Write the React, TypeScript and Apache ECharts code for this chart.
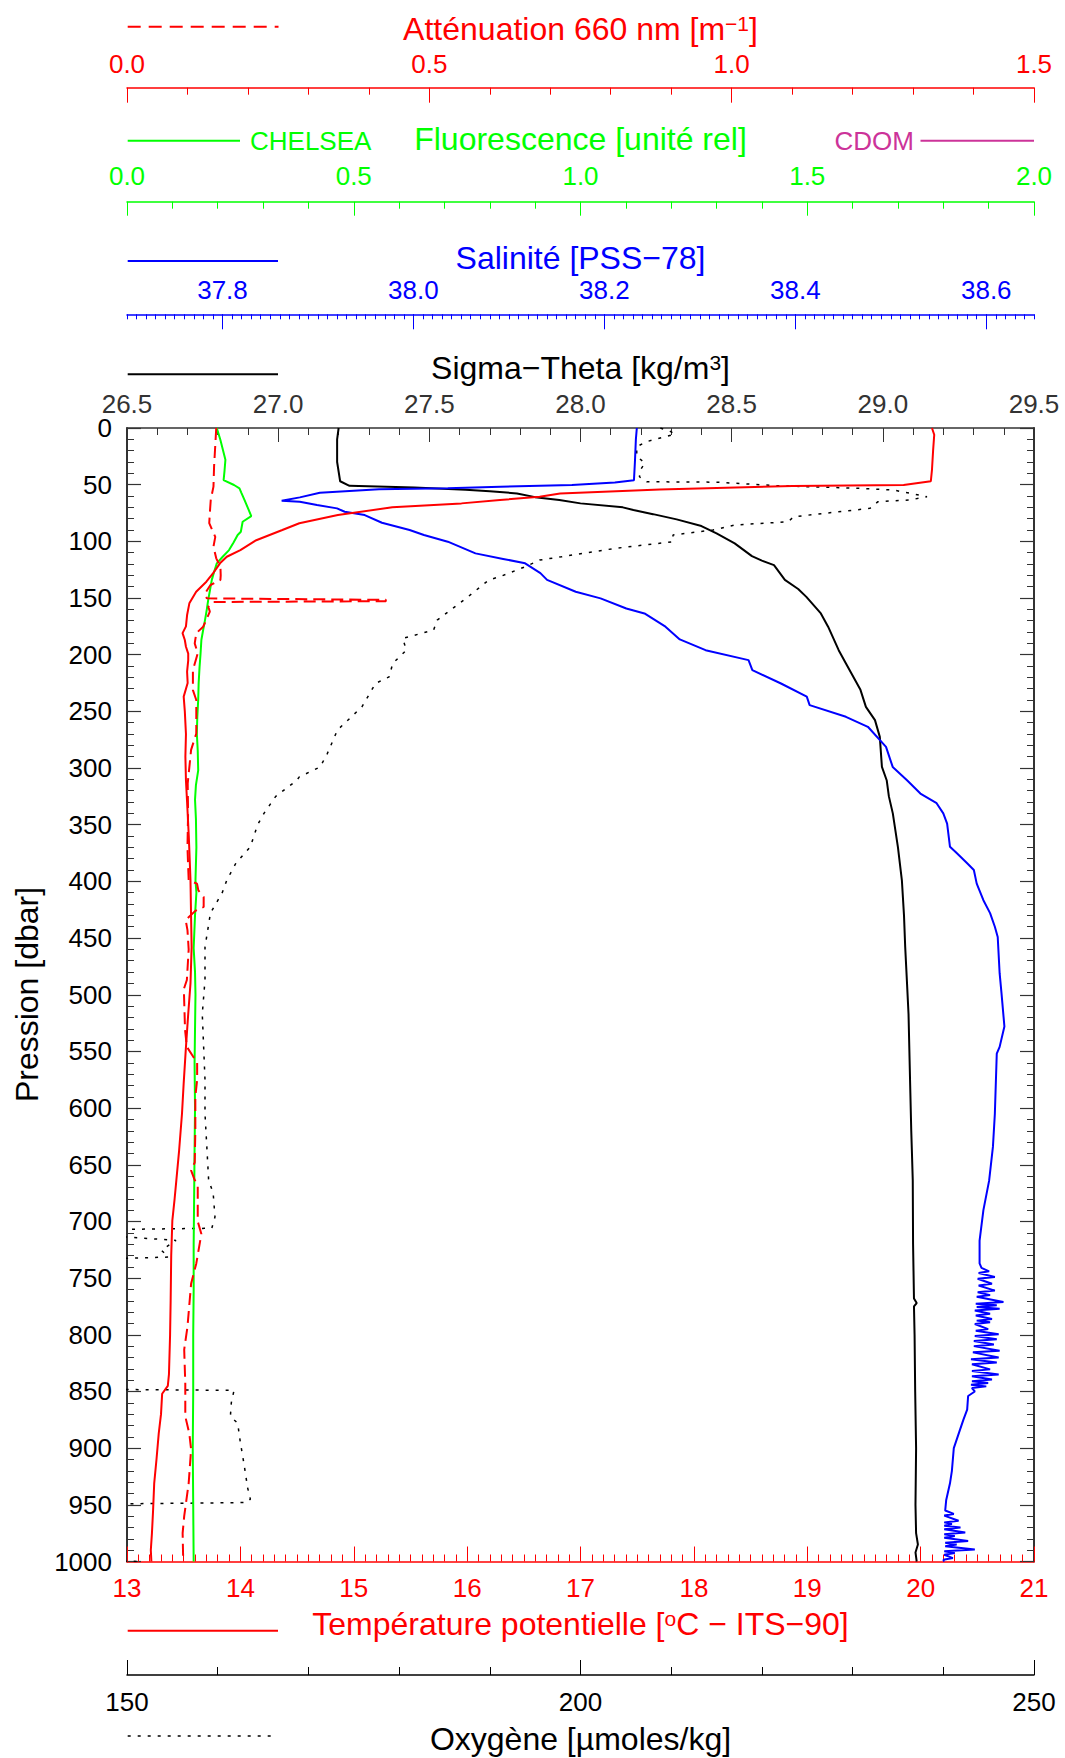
import React, { useEffect, useRef } from 'react';
import * as echarts from 'echarts';

const FONT = "'Liberation Sans', Arial, Helvetica, sans-serif";
const RED = '#ff0000';
const GREEN = '#00ff00';
const BLUE = '#0000ff';
const MAGENTA = '#cc3399';
const BLACK = '#000000';
const AXIS = '#333333';

// [temperature °C, pressure dbar]
const temperature: [number, number][] = [
  [20.10, 0], [20.12, 6], [20.11, 20], [20.10, 37], [20.09, 47], [19.85, 50.3], [18.87, 51.2], [17.70, 54.2],
  [16.82, 57.7], [16.64, 60.6], [16.29, 63.5], [15.95, 66.5], [15.34, 70], [14.86, 76.8], [14.52, 84], [14.37, 90],
  [14.14, 99], [14.00, 107.7], [13.88, 113.6], [13.82, 119.4], [13.76, 128], [13.70, 135.6], [13.61, 144.5],
  [13.55, 154.7], [13.53, 165], [13.52, 175], [13.49, 181], [13.51, 187], [13.52, 193], [13.54, 199], [13.54, 205],
  [13.53, 215], [13.535, 225], [13.50, 237], [13.51, 250], [13.52, 270], [13.515, 290], [13.52, 311], [13.53, 330],
  [13.545, 360], [13.56, 399], [13.565, 430], [13.57, 458], [13.56, 490], [13.54, 517], [13.52, 546], [13.50, 578],
  [13.485, 605], [13.46, 637], [13.435, 664], [13.42, 680], [13.40, 699], [13.39, 730], [13.385, 770], [13.38, 800],
  [13.37, 835], [13.36, 845], [13.31, 852], [13.30, 870], [13.28, 887], [13.26, 910], [13.24, 931], [13.23, 955],
  [13.22, 975], [13.21, 990], [13.215, 1000],
];

// [sigma-theta kg/m3, pressure]
const sigmaTheta: [number, number][] = [
  [27.20, 0], [27.195, 10], [27.195, 30], [27.205, 47], [27.236, 51], [27.45, 52.5], [27.62, 54.5], [27.70, 55.8],
  [27.79, 57.7], [27.85, 61], [27.93, 63.5], [28.0, 66.5], [28.14, 70], [28.175, 72.4], [28.24, 76], [28.318, 80.6],
  [28.40, 86.5], [28.45, 93], [28.51, 101.8], [28.567, 113], [28.60, 117], [28.64, 121], [28.676, 134], [28.72, 142],
  [28.747, 149], [28.795, 163.6], [28.819, 175.3], [28.854, 196], [28.878, 207.7], [28.926, 231], [28.944, 246],
  [28.974, 257.7], [28.99, 272.5], [28.997, 299], [29.013, 311], [29.02, 325], [29.033, 340], [29.05, 370],
  [29.063, 399], [29.07, 430], [29.074, 458], [29.08, 490], [29.085, 517], [29.09, 575], [29.094, 620], [29.096, 637],
  [29.099, 664], [29.10, 720], [29.103, 768], [29.112, 772], [29.103, 775], [29.105, 800], [29.107, 850], [29.11, 900],
  [29.108, 950], [29.11, 975], [29.116, 985], [29.108, 992], [29.112, 1000],
];

// [salinity PSS-78, pressure]
const salinity: [number, number][] = [
  [38.234, 0], [38.233, 10], [38.232, 30], [38.231, 46], [38.211, 48], [38.166, 50.3], [38.091, 51.8], [38.036, 53.2],
  [37.964, 54.1], [37.902, 57.1], [37.881, 61.2], [37.862, 64.2], [37.881, 65], [37.899, 68], [37.92, 70.9],
  [37.928, 73.9], [37.949, 76.8], [37.967, 83.6], [37.996, 90], [38.011, 94.4], [38.036, 100.3], [38.065, 110.6],
  [38.094, 115.5], [38.117, 119.4], [38.133, 128], [38.14, 134], [38.17, 144.5], [38.196, 150.3], [38.223, 159.2],
  [38.242, 163.6], [38.264, 175.3], [38.279, 186.5], [38.306, 196], [38.351, 204.8], [38.355, 213.6], [38.385, 225.4],
  [38.412, 237], [38.415, 244.5], [38.453, 254.8], [38.476, 263.6], [38.495, 281.3], [38.502, 299], [38.517, 310.7],
  [38.531, 322.5], [38.548, 331], [38.555, 340], [38.559, 349], [38.562, 369.5], [38.569, 375], [38.58, 384],
  [38.587, 390], [38.59, 402], [38.597, 416.6], [38.604, 428], [38.609, 440], [38.612, 449], [38.614, 481],
  [38.616, 499], [38.619, 528], [38.614, 546], [38.611, 552], [38.609, 605], [38.607, 634], [38.603, 664],
  [38.597, 690], [38.593, 717], [38.593, 737], [38.595, 741], [38.603, 744], [38.592, 745.5], [38.609, 749],
  [38.591, 750.5], [38.606, 755], [38.592, 756.5], [38.609, 761], [38.591, 762.5], [38.604, 765], [38.590, 766.5],
  [38.618, 771], [38.589, 772.5], [38.611, 774], [38.590, 775.5], [38.614, 777], [38.588, 778.5], [38.604, 781.5],
  [38.589, 783], [38.606, 786], [38.590, 787.5], [38.604, 789], [38.588, 790.5], [38.602, 795], [38.589, 796.5],
  [38.613, 799.5], [38.588, 801], [38.611, 804], [38.587, 805.5], [38.608, 808.5], [38.587, 810], [38.614, 814],
  [38.586, 815.5], [38.613, 820], [38.584, 821.5], [38.611, 824.5], [38.585, 826], [38.604, 830.5], [38.585, 832],
  [38.613, 835], [38.585, 836.5], [38.606, 839.5], [38.585, 841], [38.602, 842.5], [38.584, 844], [38.600, 845.5],
  [38.585, 847], [38.588, 850], [38.581, 854], [38.580, 866], [38.576, 875], [38.572, 885], [38.566, 900],
  [38.564, 920], [38.562, 931], [38.558, 946], [38.557, 955], [38.566, 958], [38.556, 959.5], [38.571, 964],
  [38.556, 965.5], [38.564, 967], [38.556, 968.5], [38.573, 970], [38.556, 971.5], [38.578, 974.5], [38.556, 976],
  [38.567, 977.5], [38.556, 979], [38.581, 982], [38.557, 983.5], [38.569, 985], [38.557, 986.5], [38.588, 989.5],
  [38.556, 991], [38.567, 992.5], [38.556, 994], [38.565, 997], [38.555, 998.5], [38.556, 1000],
];

// [oxygen µmol/kg, pressure] (values under 150 fall off the left edge)
const oxygen: [number, number][] = [
  [208.8, 0], [209.9, 3], [210.4, 5.5], [207.3, 12], [206.2, 16.5], [206.2, 25], [207.1, 31], [206.6, 37],
  [206.5, 43], [207.3, 47.4], [215.0, 47.8], [221.6, 50.9], [230.8, 53.2], [234.5, 54.7], [238.2, 60.6],
  [236.3, 63.5], [232.8, 65], [231.9, 70.9], [223.5, 78.3], [222.9, 82.7], [217.0, 85.6], [214.6, 90],
  [210.2, 94.4], [210.2, 100.3], [203.8, 106.2], [197.9, 113.6], [195.5, 116.5], [193.9, 122.4], [191.1, 131.2],
  [189.9, 134], [187.6, 148.9], [184.2, 169.5], [183.8, 178.3], [180.4, 185.6], [180.8, 196], [179.3, 207.7],
  [178.9, 219.5], [177.4, 225.4], [175.9, 246], [173.2, 266.5], [172.1, 287], [171.3, 299], [169.0, 307.8],
  [168.7, 311], [166.4, 325], [165.1, 340], [164.4, 350], [163.6, 369.5], [162.0, 384], [161.0, 399],
  [160.5, 410], [159.2, 428], [158.6, 458], [158.6, 487], [158.3, 517], [158.45, 546], [158.6, 575],
  [158.6, 605], [158.8, 634], [159.0, 663.5], [159.5, 675], [159.7, 696], [159.35, 706], [145, 707.5],
  [145, 711], [155.4, 716.7], [153.8, 725.5], [154.6, 731.4], [145, 733.7], [145, 848], [161.8, 849],
  [161.5, 860], [161.4, 872], [162.2, 878], [162.5, 895], [162.9, 914], [163.3, 935], [163.6, 945],
  [163.2, 948], [145, 949.5], [145, 999], [151.7, 1000],
];

// [fluorescence rel. units, pressure]
const fluorescence: [number, number][] = [
  [0.198, 0], [0.206, 10.6], [0.217, 28], [0.215, 38], [0.213, 46], [0.236, 50.3], [0.248, 53.2], [0.252, 57],
  [0.259, 63.5], [0.266, 70], [0.274, 77.7], [0.255, 82.7], [0.251, 91.5], [0.244, 94.4], [0.235, 101],
  [0.225, 107.7], [0.21, 114], [0.198, 119.4], [0.192, 127], [0.187, 134], [0.183, 143], [0.179, 151.8],
  [0.176, 160], [0.172, 169.5], [0.168, 178], [0.164, 187], [0.162, 200], [0.160, 210.7], [0.158, 225],
  [0.157, 240], [0.155, 255], [0.154, 269.5], [0.156, 285], [0.157, 302], [0.152, 315], [0.150, 328],
  [0.152, 345], [0.153, 370], [0.151, 399], [0.153, 410], [0.150, 430], [0.147, 459], [0.150, 480],
  [0.151, 500], [0.150, 530], [0.149, 560], [0.150, 600], [0.149, 637], [0.148, 680], [0.147, 720],
  [0.147, 760], [0.146, 800], [0.146, 850], [0.145, 900], [0.146, 950], [0.147, 1000],
];

// [attenuation 660 nm m-1, pressure]
const attenuation: [number, number][] = [
  [0.1476, 0], [0.146, 15], [0.144, 34], [0.143, 51.7], [0.1385, 63.5], [0.137, 75], [0.136, 84], [0.141, 90],
  [0.146, 96], [0.143, 104.7], [0.1476, 115], [0.1545, 122.4], [0.155, 130], [0.1545, 134], [0.138, 138.5],
  [0.129, 146], [0.132, 150.3], [0.428, 151.6], [0.428, 152.8], [0.143, 153.5], [0.1345, 157.7], [0.137, 162],
  [0.126, 175.3], [0.1146, 181], [0.112, 190], [0.117, 198.8], [0.109, 213.6], [0.109, 231.2], [0.1146, 240],
  [0.1146, 269.5], [0.106, 284], [0.1004, 313.6], [0.101, 340], [0.100, 370], [0.102, 399], [0.1158, 402],
  [0.118, 408], [0.1268, 413.7], [0.1268, 422.5], [0.113, 426], [0.097, 434], [0.100, 443], [0.102, 460],
  [0.099, 487], [0.094, 495], [0.096, 531], [0.099, 546], [0.116, 560], [0.116, 575], [0.113, 590],
  [0.113, 620], [0.112, 648], [0.106, 655], [0.112, 663.5], [0.117, 668], [0.117, 700], [0.123, 711],
  [0.1146, 737], [0.106, 755], [0.100, 793], [0.0946, 813], [0.0964, 843], [0.0964, 872], [0.103, 887],
  [0.106, 901], [0.102, 931], [0.0946, 960], [0.092, 975], [0.093, 1000],
];

const salinityTicks = [37.8, 38.0, 38.2, 38.4, 38.6];
const oxygenTicks = [150, 200, 250];

const GRID = { left: 127, top: 428, width: 907, height: 1133.5 };

function xAxis(opts: any) {
  const c = opts.color;
  return {
    type: 'value',
    gridIndex: 0,
    position: opts.position,
    offset: opts.offset,
    min: opts.min,
    max: opts.max,
    interval: opts.interval,
    axisLine: { show: opts.line !== false, onZero: false, lineStyle: { color: c, width: 1.5 } },
    axisTick: {
      show: true, inside: true, length: opts.tickLen ?? 15, lineStyle: { color: c, width: 1 },
      ...(opts.tickValues ? { customValues: opts.tickValues } : {}),
    },
    minorTick: { show: !!opts.minor, splitNumber: opts.minor || 5, length: opts.minorLen ?? 7, lineStyle: { color: c, width: 1 } },
    axisLabel: {
      show: opts.labels !== false,
      color: c, fontSize: 26, lineHeight: 20, fontFamily: FONT, margin: opts.margin,
      formatter: opts.fmt,
      ...(opts.labelValues ? { customValues: opts.labelValues } : {}),
    },
    splitLine: { show: false },
    minorSplitLine: { show: false },
  };
}

function yAxis(position: 'left' | 'right', labels: boolean) {
  return {
    type: 'value',
    gridIndex: 0,
    position,
    inverse: true,
    min: 0,
    max: 1000,
    interval: 50,
    axisLine: { show: true, onZero: false, lineStyle: { color: AXIS, width: 2 } },
    axisTick: { show: true, inside: true, length: 14, lineStyle: { color: AXIS, width: 1.2 } },
    minorTick: { show: true, splitNumber: 5, length: 7, lineStyle: { color: AXIS, width: 1 } },
    axisLabel: {
      show: labels, color: BLACK, fontSize: 26, lineHeight: 20, fontFamily: FONT, margin: 15,
      formatter: (v: number) => String(Math.round(v)),
    },
    splitLine: { show: false },
  };
}

function line(xAxisIndex: number, data: [number, number][], color: string, width: number, dash?: number[]) {
  return {
    type: 'line',
    xAxisIndex,
    yAxisIndex: 0,
    data,
    symbol: 'none',
    showSymbol: false,
    clip: true,
    silent: true,
    lineStyle: { color, width, type: dash ?? 'solid' },
  };
}

function title(text: string, y: number, color: string, rich?: boolean) {
  const base = { fontSize: 32, fontFamily: FONT, fill: color, lineHeight: 32 };
  return {
    type: 'text',
    x: 580.5,
    y,
    silent: true,
    style: {
      text,
      fill: color,
      fontSize: 32,
      fontFamily: FONT,
      align: 'center',
      verticalAlign: 'middle',
      ...(rich ? { rich: { n: base, s: { fontSize: 21, fontFamily: FONT, fill: color, lineHeight: 21, verticalAlign: 'top' } } } : {}),
    },
  };
}

function legendLine(x1: number, x2: number, y: number, color: string, width: number, dash?: number[]) {
  return {
    type: 'line',
    silent: true,
    shape: { x1, y1: y, x2, y2: y },
    style: { stroke: color, lineWidth: width, ...(dash ? { lineDash: dash } : {}) },
  };
}

const fmt1 = (v: number) => v.toFixed(1);
const fmt0 = (v: number) => String(Math.round(v));

const option: any = {
  animation: false,
  backgroundColor: '#ffffff',
  grid: { ...GRID, containLabel: false, outerBoundsMode: 'none' },
  xAxis: [
    xAxis({ color: RED, position: 'bottom', offset: 0, min: 13, max: 21, interval: 1, minor: 10, margin: 16, fmt: fmt0 }),
    xAxis({ color: AXIS, position: 'top', offset: 0, min: 26.5, max: 29.5, interval: 0.5, minor: 5, tickLen: 14, margin: 13.7, fmt: fmt1 }),
    xAxis({ color: BLUE, position: 'top', offset: 113.7, min: 37.7, max: 38.65, tickValues: salinityTicks, labelValues: salinityTicks, margin: 14, fmt: fmt1 }),
    xAxis({ color: BLUE, position: 'top', offset: 113.7, min: 37.7, max: 38.65, interval: 0.01, tickLen: 5, labels: false, line: false }),
    xAxis({ color: GREEN, position: 'top', offset: 226.3, min: 0, max: 2, interval: 0.5, minor: 5, tickLen: 14, margin: 15.7, fmt: fmt1 }),
    xAxis({ color: RED, position: 'top', offset: 340.3, min: 0, max: 1.5, interval: 0.5, minor: 5, margin: 14, fmt: fmt1 }),
    xAxis({ color: BLACK, position: 'bottom', offset: 113.5, min: 150, max: 250, interval: 50, minor: 5, minorLen: 8, margin: 17, fmt: fmt0, labelValues: oxygenTicks }),
  ],
  yAxis: [yAxis('left', true), yAxis('right', false)],
  series: [
    line(6, oxygen, BLACK, 1.5, [3, 7]),
    line(4, fluorescence, GREEN, 2),
    line(5, attenuation, RED, 2, [12, 6]),
    line(1, sigmaTheta, BLACK, 2),
    line(2, salinity, BLUE, 2),
    line(0, temperature, RED, 2),
  ],
  graphic: [
    legendLine(127.7, 278.5, 26.7, RED, 2, [13, 8]),
    title('{n|Atténuation 660 nm [m}{s|−1}{n|]}', 28.5, RED, true),
    legendLine(127.7, 240, 140.7, GREEN, 2),
    {
      type: 'text', x: 250, y: 141, silent: true,
      style: { text: 'CHELSEA', fill: GREEN, fontSize: 26, fontFamily: FONT, align: 'left', verticalAlign: 'middle' },
    },
    title('Fluorescence [unité rel]', 139.3, GREEN),
    {
      type: 'text', x: 914, y: 141, silent: true,
      style: { text: 'CDOM', fill: MAGENTA, fontSize: 26, fontFamily: FONT, align: 'right', verticalAlign: 'middle' },
    },
    legendLine(920.5, 1034, 140.7, MAGENTA, 2),
    legendLine(127.7, 278, 261, BLUE, 2),
    title('Salinité [PSS−78]', 257.6, BLUE),
    legendLine(127.7, 278, 374.3, BLACK, 2),
    title('{n|Sigma−Theta [kg/m}{s|3}{n|]}', 367.6, BLACK, true),
    legendLine(127.7, 278, 1630.7, RED, 2),
    title('{n|Température potentielle [}{s|o}{n|C − ITS−90]}', 1624.3, RED, true),
    legendLine(127.7, 275, 1736, BLACK, 1.5, [3, 7]),
    title('Oxygène [µmoles/kg]', 1738.5, BLACK),
    {
      type: 'text', x: 27, y: 994.5, rotation: Math.PI / 2, silent: true,
      style: { text: 'Pression [dbar]', fill: BLACK, fontSize: 32, fontFamily: FONT, align: 'center', verticalAlign: 'middle' },
    },
  ],
};

export default function App() {
  const ref = useRef<HTMLDivElement>(null);
  useEffect(() => {
    document.body.style.margin = '0';
    const chart = echarts.init(ref.current as HTMLDivElement, null, { renderer: 'svg' });
    chart.setOption(option);
    return () => chart.dispose();
  }, []);
  return <div ref={ref} style={{ width: 1065, height: 1758, background: '#fff' }} />;
}
